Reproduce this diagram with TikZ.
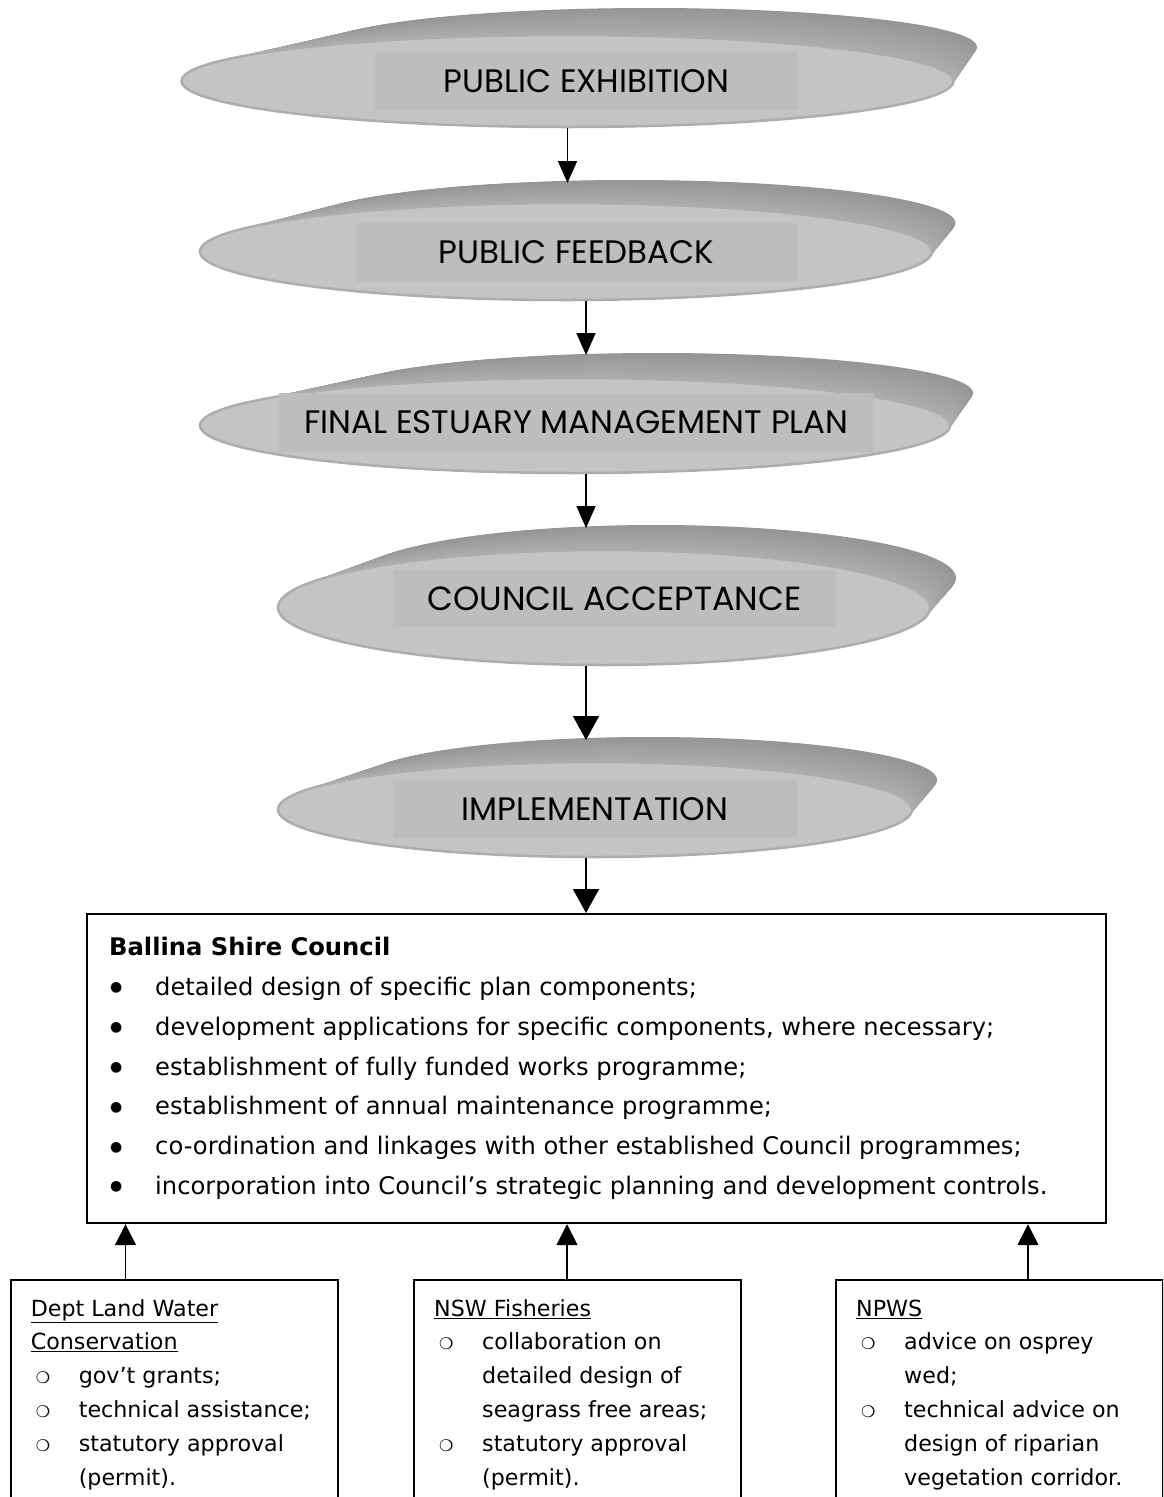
\documentclass[tikz,border=0pt]{standalone}
\usepackage{fontspec}
\setmainfont{DejaVu Sans}
\newfontfamily\gothic{Poppins}
\usetikzlibrary{arrows.meta,shapes.geometric,calc}
\definecolor{facegray}{HTML}{C4C4C4}
\definecolor{rimgray}{HTML}{ADADAD}
\definecolor{rectgray}{HTML}{BDBDBD}
\definecolor{sideback}{HTML}{959595}
\definecolor{sidefront}{HTML}{ADADAD}
\newcommand\myextrude[8]{%
  \foreach \k in {0,...,48}{%
    \pgfmathsetmacro\s{1-\k/48}%
    \pgfmathsetmacro\ex{#1+\s*(#5-#1)}%
    \pgfmathsetmacro\ey{#2+\s*(#6-#2)}%
    \pgfmathsetmacro\ea{#3+\s*(#7-#3)}%
    \pgfmathsetmacro\eb{#4+\s*(#8-#4)}%
    \pgfmathtruncatemacro\pc{100*\s}%
    \fill[sideback!\pc!sidefront] (\ex,\ey) ellipse [x radius=\ea, y radius=\eb];
  }}
\newcommand\bul{\hspace{5pt}{\fontsize{16}{16}\selectfont ❍}}
\newcommand\dotb{\hspace{1pt}\raisebox{3.5pt}{\fontsize{14}{14}\selectfont ●}}
\tikzset{
  face/.style={ellipse, inner sep=0pt, fill=facegray, draw=rimgray, line width=2.5pt},
  label/.style={fill=rectgray, inner sep=0pt, font=\gothic\fontsize{32.5}{32.5}\selectfont, text=black},
  box/.style={draw=black, line width=2.2pt, inner sep=0pt, fill=white},
  arrS/.style={line width=1.6pt, -{Triangle[width=19pt,length=22pt]}},
  arrB/.style={line width=1.6pt, -{Triangle[width=26pt,length=24pt]}},
  arrU/.style={line width=1.6pt, -{Triangle[width=21pt,length=21pt]}},
}
\begin{document}
\begin{tikzpicture}[x=1pt,y=-1pt]
\useasboundingbox (0,0) rectangle (1163,1497);
\clip (0,0) rectangle (1163,1497);
\fill[white] (0,0) rectangle (1163,1497);

% ---- ellipse 1
\myextrude{567.5}{81}{386}{46}{650}{47}{327}{39}
\node[face, minimum width=772, minimum height=92] (e1) at (567.5,81) {};
\node[label, minimum width=423, minimum height=58] (t1) at (586.5,81) {PUBLIC EXHIBITION};
% ---- ellipse 2
\myextrude{566}{251.5}{366}{48.5}{630.5}{223}{325}{43}
\node[face, minimum width=732, minimum height=97] (e2) at (566,251.5) {};
\node[label, minimum width=441, minimum height=59] (t2) at (576.5,252.5) {PUBLIC FEEDBACK};
% ---- ellipse 3
\myextrude{575}{425.5}{375}{47.5}{657}{393}{316}{40}
\node[face, minimum width=750, minimum height=95] (e3) at (575,425.5) {};
\node[label, minimum width=595, minimum height=59] (t3) at (576.5,422.5) {FINAL ESTUARY MANAGEMENT PLAN};
% ---- ellipse 4
\myextrude{604}{607.5}{326}{57.5}{656}{578}{300}{53}
\node[face, minimum width=652, minimum height=115] (e4) at (604,607.5) {};
\node[label, minimum width=443, minimum height=57, font=\gothic\fontsize{33.5}{33.5}\selectfont] (t4) at (614.5,598.5) {COUNCIL ACCEPTANCE};
% ---- ellipse 5
\myextrude{595}{809.5}{317}{47.5}{650}{780}{287}{43}
\node[face, minimum width=634, minimum height=95] (e5) at (595,809.5) {};
\node[label, minimum width=404, minimum height=58] (t5) at (595,809) {IMPLEMENTATION};

% ---- arrow end points (tops of the next stage)
\coordinate (in2) at (567.5,183);
\coordinate (in3) at (586,355);
\coordinate (in4) at (586,528);
\coordinate (in5) at (586,740);
\coordinate (in6) at (586,913);

\draw[arrS] (e1.south) -- (in2);
\draw[arrS] (e2.south -| in3) -- (in3);
\draw[arrS] (e3.south -| in4) -- (in4);
\draw[arrB] (e4.south -| in5) -- (in5);
\draw[arrB] (e5.south -| in6) -- (in6);

% ---- Ballina Shire Council box
\node[box, anchor=north west, minimum width=1019, minimum height=309] (big) at (86,913) {};
\node[anchor=north west, inner sep=0pt] (bigtext) at (109,927.6) {\fontsize{24.2}{39.8}\selectfont
\begin{tabular}{@{}p{46pt}@{}l@{}}
\multicolumn{2}{@{}l@{}}{\textbf{Ballina Shire Council}}\\
\dotb & detailed design of specific plan components;\\
\dotb & development applications for specific components, where necessary;\\
\dotb & establishment of fully funded works programme;\\
\dotb & establishment of annual maintenance programme;\\
\dotb & co-ordination and linkages with other established Council programmes;\\
\dotb & incorporation into Council’s strategic planning and development controls.
\end{tabular}};

% ---- lower boxes
\node[box, anchor=north west, minimum width=327, minimum height=240] (b1) at (10,1279) {};
\node[box, anchor=north west, minimum width=327, minimum height=240] (b2) at (413,1279) {};
\node[box, anchor=north west, minimum width=327, minimum height=240] (b3) at (835,1279) {};

\node[anchor=north west, inner sep=0pt] (b1text) at (30.6,1292.3) {\fontsize{22.2}{33.8}\selectfont
\begin{tabular}{@{}p{48pt}@{}l@{}}
\multicolumn{2}{@{}l@{}}{\underline{Dept Land Water}}\\
\multicolumn{2}{@{}l@{}}{\underline{Conservation}}\\
\bul & gov’t grants;\\
\bul & technical assistance;\\
\bul & statutory approval\\
 & (permit).
\end{tabular}};

\node[anchor=north west, inner sep=0pt] (b2text) at (434,1292.3) {\fontsize{22.2}{33.8}\selectfont
\begin{tabular}{@{}p{48pt}@{}l@{}}
\multicolumn{2}{@{}l@{}}{\underline{NSW Fisheries}}\\
\bul & collaboration on\\
 & detailed design of\\
 & seagrass free areas;\\
\bul & statutory approval\\
 & (permit).
\end{tabular}};

\node[anchor=north west, inner sep=0pt] (b3text) at (856,1292.3) {\fontsize{22.2}{33.8}\selectfont
\begin{tabular}{@{}p{48pt}@{}l@{}}
\multicolumn{2}{@{}l@{}}{\underline{NPWS}}\\
\bul & advice on osprey\\
 & wed;\\
\bul & technical advice on\\
 & design of riparian\\
 & vegetation corridor.
\end{tabular}};

\draw[arrU] ([xshift=115.5pt]b1.north west) -- ([xshift=115.5pt]b1.north west |- big.south);
\draw[arrU] ([xshift=154pt]b2.north west) -- ([xshift=154pt]b2.north west |- big.south);
\draw[arrU] ([xshift=193pt]b3.north west) -- ([xshift=193pt]b3.north west |- big.south);
\end{tikzpicture}
\end{document}
